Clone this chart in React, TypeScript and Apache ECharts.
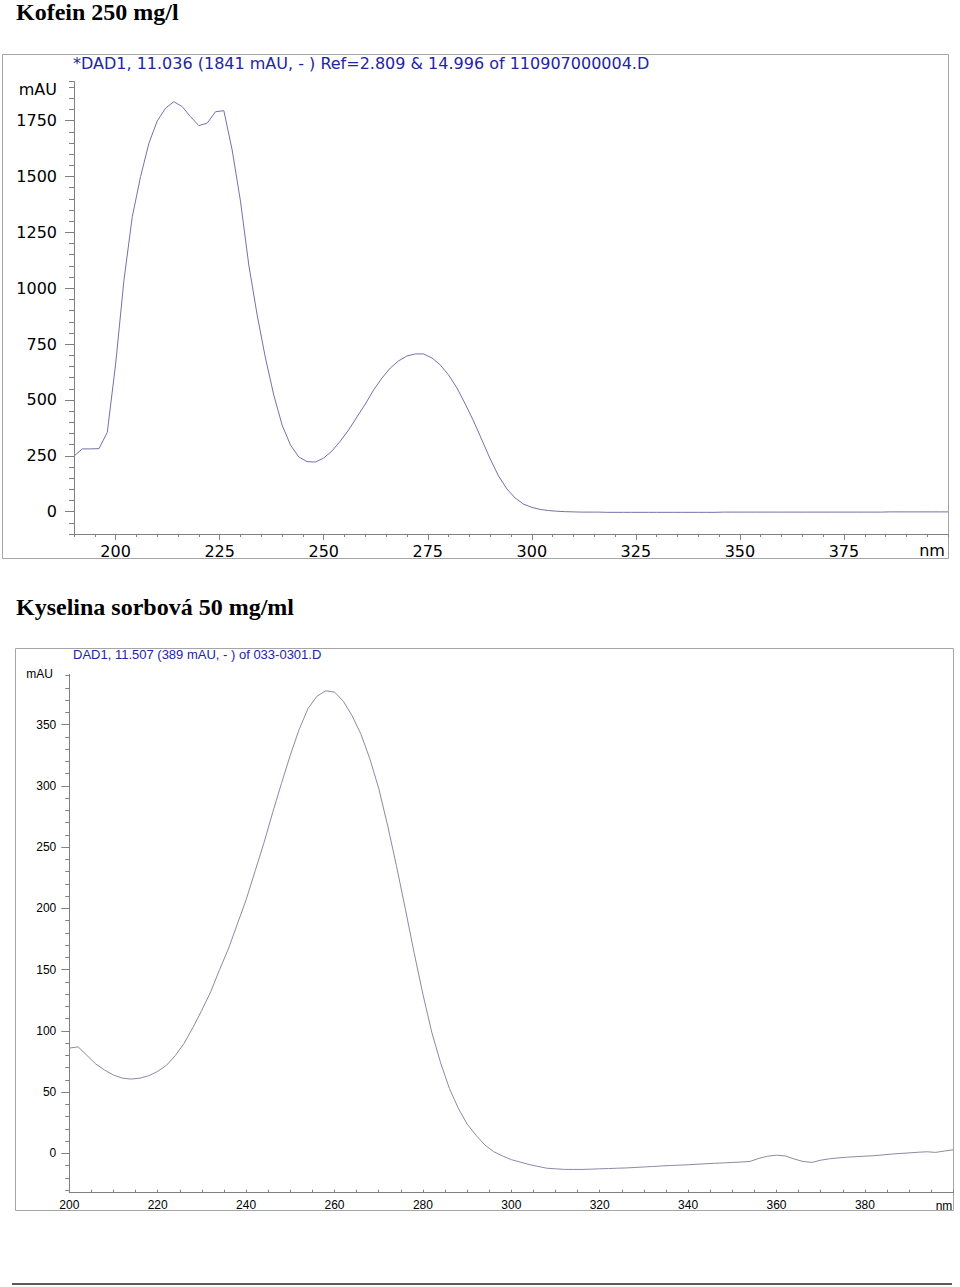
import React, { useEffect, useRef } from "react";
import * as echarts from "echarts";

// ---- Kofein 250 mg/l (wavelength nm, absorbance mAU) ----
const kofeinNm = [
  190, 192, 194, 196, 198, 200, 202, 204, 206, 208,
  210, 212, 214, 216, 218, 220, 222, 224, 226, 228,
  230, 232, 234, 236, 238, 240, 242, 244, 246, 248,
  250, 252, 254, 256, 258, 260, 262, 264, 266, 268,
  270, 272, 274, 276, 278, 280, 282, 284, 286, 288,
  290, 292, 294, 296, 298, 300, 302, 304, 306, 308,
  310, 312, 314, 316, 318, 320, 322, 324, 326, 328,
  330, 332, 334, 336, 338, 340, 342, 344, 346, 348,
  350, 352, 354, 356, 358, 360, 362, 364, 366, 368,
  370, 372, 374, 376, 378, 380, 382, 384, 386, 388,
  390, 392, 394, 396, 398, 400,
];
const kofeinMAU = [
  249, 281, 281, 282, 355, 660, 1036, 1320, 1500, 1649,
  1749, 1806, 1835, 1813, 1768, 1728, 1739, 1790, 1795, 1619,
  1390, 1104, 881, 688, 522, 388, 299, 245, 224, 222,
  240, 272, 316, 366, 424, 482, 545, 598, 643, 675,
  697, 706, 706, 688, 657, 612, 554, 482, 406, 321,
  236, 160, 102, 61, 34, 19, 10, 5, 2, 0,
  -1, -2, -2, -2, -3, -3, -3, -3, -3, -3,
  -3, -3, -3, -3, -3, -3, -3, -3, -2, -2,
  -2, -2, -2, -2, -2, -2, -2, -2, -2, -2,
  -2, -2, -2, -2, -2, -2, -2, -2, -1, -1,
  -1, -1, -1, -1, -1, -1,
];

// ---- Kyselina sorbová 50 mg/ml ----
const sorbNm = [
  200, 202, 204, 206, 208, 210, 212, 214, 216, 218,
  220, 222, 224, 226, 228, 230, 232, 234, 236, 238,
  240, 242, 244, 246, 248, 250, 252, 254, 256, 258,
  260, 262, 264, 266, 268, 270, 272, 274, 276, 278,
  280, 282, 284, 286, 288, 290, 292, 294, 296, 298,
  300, 302, 304, 306, 308, 310, 312, 314, 316, 318,
  320, 322, 324, 326, 328, 330, 332, 334, 336, 338,
  340, 342, 344, 346, 348, 350, 352, 354, 356, 358,
  360, 362, 364, 366, 368, 370, 372, 374, 376, 378,
  380, 382, 384, 386, 388, 390, 392, 394, 396, 398,
  400,
];
const sorbMAU = [
  86, 87, 80, 73, 68, 64, 61.5, 60.7, 61.5, 63.5,
  67, 72, 80, 90, 103, 117, 132, 150, 167, 187,
  207, 230, 253, 278, 302, 325, 346, 363, 373, 377.5,
  376.5, 369, 357, 342, 322, 298, 268, 235, 200, 164,
  130, 99, 74, 53, 37, 24, 15, 7, 1.5, -2,
  -5, -7, -9, -10.5, -12, -12.5, -13, -13, -13, -12.8,
  -12.5, -12.3, -12, -11.8, -11.4, -11, -10.6, -10.2, -9.8, -9.5,
  -9.2, -8.8, -8.4, -8, -7.7, -7.3, -7, -6.5, -4, -2.2,
  -1.4, -2, -4.5, -6.5, -7.3, -5.5, -4.3, -3.6, -3, -2.6,
  -2.2, -1.8, -1.2, -0.5, 0, 0.5, 1, 1.4, 0.9, 2,
  3,
];

// ---- tick labels ----
const kofeinXTicks = [200, 225, 250, 275, 300, 325, 350, 375];
const kofeinYTicks = [0, 250, 500, 750, 1000, 1250, 1500, 1750];
const sorbXTicks = [200, 220, 240, 260, 280, 300, 320, 340, 360, 380];
const sorbYTicks = [0, 50, 100, 150, 200, 250, 300, 350];
const sorbYMinorTicks = [
  -30, -20, -10, 0, 10, 20, 30, 40, 50, 60, 70, 80, 90, 100, 110, 120, 130, 140,
  150, 160, 170, 180, 190, 200, 210, 220, 230, 240, 250, 260, 270, 280, 290, 300,
  310, 320, 330, 340, 350, 360, 370, 380, 390,
];

const titles = {
  kofein: "Kofein 250 mg/l",
  sorb: "Kyselina sorbová 50 mg/ml",
  kofeinHeader: "*DAD1, 11.036 (1841 mAU, - ) Ref=2.809 & 14.996 of 110907000004.D",
  sorbHeader: "DAD1, 11.507 (389 mAU, - ) of 033-0301.D",
};

const SANS = "'Liberation Sans', Arial, sans-serif";
const WIDE = "'DejaVu Sans', 'Liberation Sans', sans-serif";
const SERIF = "'Liberation Serif', 'Times New Roman', serif";
const AXIS_GRAY = "#808080";
const BLUE = "#2323a6";
const plain = (v: number) => String(v);

function txt(text: string, x: number, y: number, size: number, opts: any = {}) {
  const align = opts.align || "left";
  return {
    type: "text",
    x,
    y,
    silent: true,
    style: {
      text,
      fontSize: size,
      fontFamily: opts.family || SANS,
      fontWeight: opts.weight || "normal",
      fill: opts.color || "#000",
      align,
      verticalAlign: "middle",
      textAlign: align,
      textVerticalAlign: "middle",
    },
  };
}

export default function App() {
  const ref = useRef<HTMLDivElement>(null);

  useEffect(() => {
    if (!ref.current) return;
    const chart = echarts.init(ref.current, null, { renderer: "svg" });

    const k1 = { min: -100, max: 1925 };
    const k2 = { min: -32, max: 391 };

    const option: any = {
      animation: false,
      backgroundColor: "#ffffff",
      grid: [
        { left: 74, top: 81.6, width: 874, height: 452.4, outerBoundsMode: "none", containLabel: false },
        { left: 69.3, top: 674.3, width: 884, height: 518.4, outerBoundsMode: "none", containLabel: false },
      ],
      xAxis: [
        {
          type: "value", gridIndex: 0, min: 190, max: 400, position: "bottom",
          axisLine: { show: true, onZero: false, lineStyle: { color: AXIS_GRAY, width: 1 } },
          axisTick: { show: true, inside: false, length: 6, customValues: kofeinXTicks, lineStyle: { color: AXIS_GRAY } },
          axisLabel: { show: true, customValues: kofeinXTicks, formatter: plain, fontSize: 16, fontFamily: WIDE, color: "#000", margin: 9 },
          splitLine: { show: false },
        },
        {
          type: "value", gridIndex: 0, min: 190, max: 400, interval: 5, position: "bottom",
          axisLine: { show: false, onZero: false },
          axisTick: { show: true, inside: false, length: 3, lineStyle: { color: AXIS_GRAY } },
          axisLabel: { show: false },
          splitLine: { show: false },
        },
        {
          type: "value", gridIndex: 1, min: 200, max: 400, interval: 5, position: "bottom",
          axisLine: { show: true, onZero: false, lineStyle: { color: AXIS_GRAY, width: 1 } },
          axisTick: { show: true, inside: true, length: 3, lineStyle: { color: AXIS_GRAY } },
          axisLabel: { show: true, customValues: sorbXTicks, formatter: plain, fontSize: 12, fontFamily: SANS, color: "#000", margin: 6 },
          splitLine: { show: false },
        },
      ],
      yAxis: [
        {
          type: "value", gridIndex: 0, min: k1.min, max: k1.max, position: "left",
          axisLine: { show: true, onZero: false, lineStyle: { color: AXIS_GRAY, width: 1 } },
          axisTick: { show: true, inside: false, length: 9, customValues: kofeinYTicks, lineStyle: { color: AXIS_GRAY } },
          axisLabel: { show: true, customValues: kofeinYTicks, formatter: plain, fontSize: 16, fontFamily: WIDE, color: "#000", margin: 17 },
          splitLine: { show: false },
        },
        {
          type: "value", gridIndex: 0, min: k1.min, max: k1.max, interval: 50, position: "left",
          axisLine: { show: false, onZero: false },
          axisTick: { show: true, inside: false, length: 5, lineStyle: { color: AXIS_GRAY } },
          axisLabel: { show: false },
          splitLine: { show: false },
        },
        {
          type: "value", gridIndex: 1, min: k2.min, max: k2.max, position: "left",
          axisLine: { show: true, onZero: false, lineStyle: { color: AXIS_GRAY, width: 1 } },
          axisTick: { show: true, inside: false, length: 8, customValues: sorbYTicks, lineStyle: { color: AXIS_GRAY } },
          axisLabel: { show: true, customValues: sorbYTicks, formatter: plain, fontSize: 12, fontFamily: SANS, color: "#000", margin: 13 },
          splitLine: { show: false },
        },
        {
          type: "value", gridIndex: 1, min: k2.min, max: k2.max, position: "left",
          axisLine: { show: false, onZero: false },
          axisTick: { show: true, inside: false, length: 4, customValues: sorbYMinorTicks, lineStyle: { color: AXIS_GRAY } },
          axisLabel: { show: false },
          splitLine: { show: false },
        },
      ],
      series: [
        {
          type: "line", xAxisIndex: 0, yAxisIndex: 0, silent: true,
          data: kofeinNm.map((x, i) => [x, kofeinMAU[i]]),
          showSymbol: false, symbol: "none",
          lineStyle: { color: "#7272aa", width: 1 },
        },
        {
          type: "line", xAxisIndex: 2, yAxisIndex: 2, silent: true,
          data: sorbNm.map((x, i) => [x, sorbMAU[i]]),
          showSymbol: false, symbol: "none",
          lineStyle: { color: "#8a8aa4", width: 1 },
        },
      ],
      graphic: [
        txt(titles.kofein, 16, 11.5, 24, { family: SERIF, weight: "bold" }),
        txt(titles.sorb, 16, 606.5, 24, { family: SERIF, weight: "bold" }),
        {
          type: "rect", silent: true,
          shape: { x: 2.5, y: 54.5, width: 946, height: 504 },
          style: { fill: "none", stroke: "#a6a6a6", lineWidth: 1 },
        },
        {
          type: "rect", silent: true,
          shape: { x: 15.5, y: 648.5, width: 938, height: 562 },
          style: { fill: "none", stroke: "#a6a6a6", lineWidth: 1 },
        },
        txt(titles.kofeinHeader, 73, 63, 16, { color: BLUE, family: WIDE }),
        txt("mAU", 57, 89, 16, { align: "right", family: WIDE }),
        txt("nm", 932, 550, 16, { align: "center", family: WIDE }),
        txt(titles.sorbHeader, 73, 654, 13, { color: BLUE }),
        txt("mAU", 53, 674, 12, { align: "right" }),
        txt("nm", 944, 1206, 12, { align: "center" }),
        {
          type: "line", silent: true,
          shape: { x1: 12, y1: 1284, x2: 952, y2: 1284 },
          style: { stroke: "#5a5a5a", lineWidth: 2 },
        },
      ],
    };

    chart.setOption(option);
    return () => chart.dispose();
  }, []);

  return (
    <div
      ref={ref}
      style={{ position: "absolute", left: 0, top: 0, width: 960, height: 1287, background: "#fff" }}
    />
  );
}
